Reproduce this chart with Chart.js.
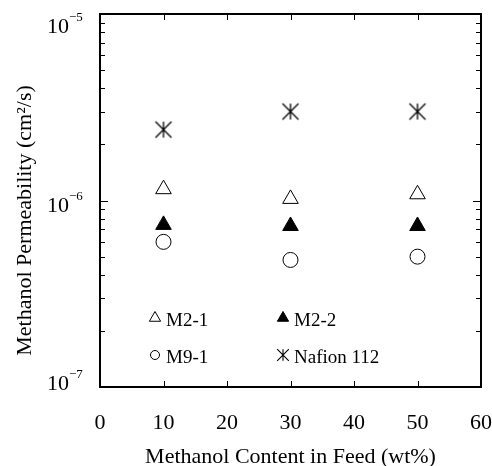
<!DOCTYPE html>
<html>
<head>
<meta charset="utf-8">
<script src="https://cdn.jsdelivr.net/npm/chart.js@4/dist/chart.umd.min.js"></script>
<style>
  html, body { margin: 0; padding: 0; background: #fff; }
  #wrap { width: 492px; height: 466px; }
</style>
</head>
<body>
<div id="wrap"><canvas id="chart" width="492" height="466"></canvas></div>
<script>
// data
const feedContent = [10, 30, 50];
const m21 = [1.15e-6, 1.02e-6, 1.08e-6];
const m22 = [7.4e-7, 7.3e-7, 7.3e-7];
const m91 = [6.0e-7, 4.8e-7, 5.0e-7];
const nafion = [2.4e-6, 3.0e-6, 3.0e-6];
const labels = ['M2-1', 'M2-2', 'M9-1', 'Nafion 112'];
const yDecades = [-7, -6, -5];
const xTicks = [0, 10, 20, 30, 40, 50, 60];
const xTitle = 'Methanol Content in Feed (wt%)';
const yTitle = 'Methanol Permeability (cm\u00B2/s)';

const FONT = '"Liberation Serif", "Times New Roman", serif';

// asterisk marker: vertical bar + X
function asterisk(size, r, lw) {
  const c = document.createElement('canvas');
  c.width = size; c.height = size;
  const g = c.getContext('2d');
  const m = size / 2;
  g.strokeStyle = '#000';
  g.lineWidth = lw;
  g.beginPath();
  g.moveTo(m, m - r); g.lineTo(m, m + r);
  g.moveTo(m - r, m - r); g.lineTo(m + r, m + r);
  g.moveTo(m - r, m + r); g.lineTo(m + r, m - r);
  g.stroke();
  return c;
}
const starBig = asterisk(20, 8, 1.3);
const starSmall = asterisk(14, 5.8, 1.1);

const pts = arr => feedContent.map((x, i) => ({ x, y: arr[i] }));

const datasets = [
  { label: labels[0], data: pts(m21), pointStyle: 'triangle', pointRadius: 9, backgroundColor: '#fff', borderColor: '#000', borderWidth: 1, legendStyle: 'triangle', legendRadius: 6.5 },
  { label: labels[1], data: pts(m22), pointStyle: 'triangle', pointRadius: 9, backgroundColor: '#000', borderColor: '#000', borderWidth: 1, legendStyle: 'triangle', legendRadius: 6.5 },
  { label: labels[2], data: pts(m91), pointStyle: 'circle', pointRadius: 7.5, backgroundColor: '#fff', borderColor: '#000', borderWidth: 1, legendStyle: 'circle', legendRadius: 4.5 },
  { label: labels[3], data: pts(nafion), pointStyle: starBig, pointRadius: 9, backgroundColor: '#000', borderColor: '#000', borderWidth: 1, legendStyle: starSmall, legendRadius: 6 }
];

// frame, inside ticks, tick labels, titles, in-plot legend
const decor = {
  id: 'decor',
  afterDatasetsDraw(chart) {
    const { ctx, chartArea: a, scales: { x, y } } = chart;
    ctx.save();
    ctx.strokeStyle = '#000';
    ctx.lineWidth = 1;
    ctx.beginPath();
    xTicks.slice(1, -1).forEach(v => {
      const px = Math.round(x.getPixelForValue(v)) + 0.5;
      ctx.moveTo(px, a.bottom); ctx.lineTo(px, a.bottom - 6);
      ctx.moveTo(px, a.top); ctx.lineTo(px, a.top + 6);
    });
    y.ticks.forEach(t => {
      const py = Math.round(y.getPixelForValue(t.value)) + 0.5;
      const major = Math.abs(Math.log10(t.value) - Math.round(Math.log10(t.value))) < 1e-9;
      const len = major ? 8 : 5;
      ctx.moveTo(a.left, py); ctx.lineTo(a.left + len, py);
      ctx.moveTo(a.right, py); ctx.lineTo(a.right - len, py);
    });
    ctx.stroke();

    ctx.lineWidth = 2;
    ctx.strokeRect(a.left, a.top, a.right - a.left, a.bottom - a.top);

    ctx.fillStyle = '#000';

    // x tick labels
    ctx.font = '22px ' + FONT;
    ctx.textAlign = 'center';
    ctx.textBaseline = 'alphabetic';
    xTicks.forEach(v => ctx.fillText(String(v), x.getPixelForValue(v), a.bottom + 42));

    // x title
    ctx.fillText(xTitle, (a.left + a.right) / 2, a.bottom + 76);

    // y tick labels 10^n
    ctx.textAlign = 'left';
    yDecades.forEach(n => {
      const py = y.getPixelForValue(Math.pow(10, n));
      const base = py + 19 - 16 * (py - a.top) / (a.bottom - a.top);
      ctx.font = '22px ' + FONT;
      ctx.fillText('10', 47, base);
      ctx.font = '13px ' + FONT;
      ctx.fillText('\u2212' + Math.abs(n), 69, base - 12);
    });

    // y title
    ctx.save();
    ctx.translate(25, (a.top + a.bottom) / 2 + 20);
    ctx.rotate(-Math.PI / 2);
    ctx.font = '22px ' + FONT;
    ctx.textAlign = 'center';
    ctx.textBaseline = 'middle';
    ctx.fillText(yTitle, 0, 0);
    ctx.restore();

    // legend, 2 x 2 inside plot
    const cols = [a.left + 55, a.left + 183];
    const rows = [a.bottom - 69, a.bottom - 32];
    chart.data.datasets.forEach((ds, k) => {
      const cx = cols[k % 2], cy = rows[Math.floor(k / 2)];
      ctx.fillStyle = ds.backgroundColor;
      ctx.strokeStyle = ds.borderColor;
      ctx.lineWidth = 1;
      Chart.helpers.drawPoint(ctx, { pointStyle: ds.legendStyle, radius: ds.legendRadius, rotation: 0, borderWidth: 1 }, cx, cy);
      ctx.fillStyle = '#000';
      ctx.font = '19px ' + FONT;
      ctx.textAlign = 'left';
      ctx.textBaseline = 'alphabetic';
      ctx.fillText(ds.label, cx + 11, cy + 8);
    });
    ctx.restore();
  }
};

new Chart(document.getElementById('chart'), {
  type: 'scatter',
  data: { datasets },
  options: {
    responsive: false,
    animation: false,
    layout: { padding: { top: 14, right: 11, left: 0, bottom: 0 } },
    plugins: { legend: { display: false }, tooltip: { enabled: false } },
    scales: {
      x: {
        type: 'linear',
        min: 0, max: 60,
        afterBuildTicks: s => { s.ticks = xTicks.map(v => ({ value: v })); },
        afterFit: s => { s.height = 79; },
        grid: { display: false },
        border: { display: false },
        ticks: { display: false }
      },
      y: {
        type: 'logarithmic',
        min: 1e-7, max: 1e-5,
        afterBuildTicks: s => {
          const t = [];
          for (let n = yDecades[0]; n < yDecades[yDecades.length - 1]; n++) {
            for (let m = 1; m < 10; m++) t.push({ value: m * Math.pow(10, n) });
          }
          t.push({ value: Math.pow(10, yDecades[yDecades.length - 1]) });
          s.ticks = t;
        },
        afterFit: s => { s.width = 100; },
        grid: { display: false },
        border: { display: false },
        ticks: { display: false }
      }
    }
  },
  plugins: [decor]
});
</script>
</body>
</html>
